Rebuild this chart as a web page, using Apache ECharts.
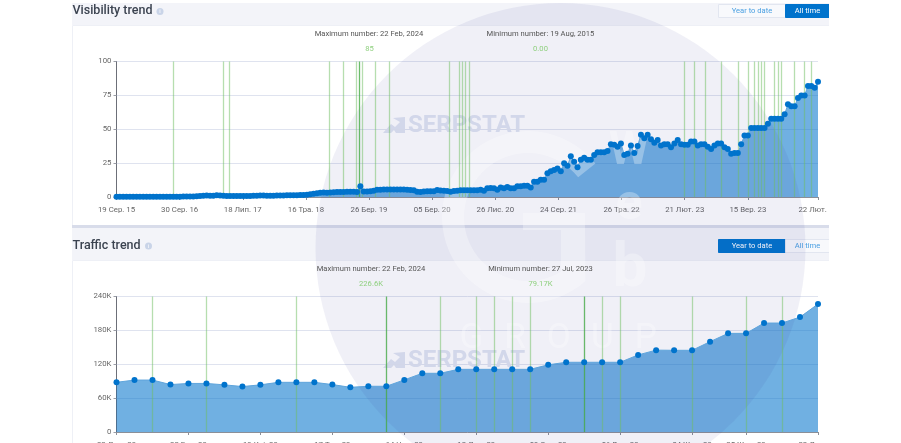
<!DOCTYPE html>
<html><head><meta charset="utf-8">
<style>html,body{margin:0;padding:0;background:#fff;overflow:hidden}#c{width:829px;height:443px;filter:blur(0.45px)}</style>
<script src="https://cdn.jsdelivr.net/npm/echarts@6/dist/echarts.min.js"></script>
</head><body><div id="c"></div>
<script>
const visibilityValues = [
0.2,0.2,0.2,0.2,0.2,0.2,0.2,0.2,0.2,0.2,0.2,0.2,0.2,0.2,0.2,0.2,0.2,0.2,0.2,0.2,
0.3,0.3,0.3,0.4,0.5,0.7,0.9,1.1,1.0,1.0,1.2,1.1,1.0,0.7,0.7,0.8,0.8,0.7,0.7,0.8,
0.8,0.9,1.0,1.1,1.1,1.0,1.0,1.0,1.1,1.1,1.1,1.2,1.2,1.2,1.3,1.4,1.5,1.7,2.0,2.4,
2.8,3.2,3.3,3.2,3.4,3.5,3.6,3.6,3.7,3.8,3.8,3.8,3.7,8.0,4.0,4.0,4.2,4.6,5.3,5.4,
5.5,5.6,5.6,5.6,5.5,5.5,5.5,5.4,5.2,5.0,3.8,3.6,4.0,4.2,4.2,4.2,5.1,4.8,4.6,4.5,
3.9,4.4,4.7,5.0,4.9,5.0,4.9,5.0,5.0,5.4,4.7,6.4,6.6,6.4,5.4,7.0,6.4,7.4,6.4,6.4,
8.0,8.0,8.3,8.3,7.0,11.3,11.3,12.7,12.7,17.6,19,20,21,19,25,23,30,26,22,27.5,
29,27.5,27.5,31,33,33,33,34,39,38.5,37,39.5,31,32,38,32.4,37.7,46,43.4,46,
42.6,40,42,38,39,39,36.8,39.5,42,39,38.5,38.5,41,41,38,39,39,37,35.5,38,
39.5,39.5,36.8,35.5,32,32.4,32.4,39,45.3,45.3,51,51,51,51,51,54,57.8,57.8,57.8,57.8,
61,68.4,67,67,73,75,75,82,82,80.6,85];
const visibilityUpdates = [16.9,31.9,33.9,63.8,67.8,71.8,73.6,77.6,81.6,99.5,102.5,103.5,104.5,105.5,170.1,173.1,176.1,181,186,189,191,192,193,194,197,198,199,203,206,208];
const visibilityStrongUpdates = [72.6];
const visibilityTickPositions = [0,18.9,37.8,56.7,75.6,94.5,113.4,132.3,151.2,170.1,189,210];
const visibilityTickLabels = ['19 Сер. 15','30 Сер. 16','18 Лип. 17','16 Тра. 18','26 Бер. 19','05 Бер. 20','26 Лис. 20','24 Сер. 21','26 Тра. 22','21 Лют. 23','15 Вер. 23','22 Лют. 24'];
const trafficValues = [88000,92000,92000,84000,86000,86000,83500,80500,83500,88000,88000,88000,84000,79170,81000,81000,92300,104000,104000,111000,111000,111000,111000,111000,119000,123500,123500,123500,123500,136500,145000,144700,144700,160000,174700,174700,193000,193000,203500,226600];
const trafficUpdates = [2,5,10,18,20,21,22,23,27,28,32,35,37];
const trafficStrongUpdates = [15,26];
const trafficTickPositions = [0,4,8,12,16,20,24,28,32,35,39];
const trafficTickLabels = ['22 Лют. 23','22 Бер. 23','19 Кві. 23','17 Тра. 23','14 Чер. 23','12 Лип. 23','09 Сер. 23','06 Вер. 23','04 Жов. 23','25 Жов. 23','22 Лют. 24'];

const FONT = 'Roboto';
const GREEN_SOFT = 'rgba(110,190,95,0.5)', GREEN_STRONG = 'rgba(70,170,70,0.8)';
const chart = echarts.init(document.getElementById('c'), null, {renderer:'canvas'});

function xAxis(gridIndex, ticks, labels, max){
  const map = new Map(ticks.map((t,i)=>[t,labels[i]]));
  return {type:'value',gridIndex,min:0,max,splitLine:{show:false},
    axisLine:{onZero:false,lineStyle:{color:'#8b8f98',width:1}},
    axisTick:{customValues:ticks,length:3,lineStyle:{color:'#8b8f98'}},
    axisLabel:{customValues:ticks,formatter:v=>map.get(v)||'',color:'#666',fontFamily:FONT,fontSize:7.8,margin:9,hideOverlap:false,showMinLabel:true,showMaxLabel:true}};
}
function yAxis(gridIndex,max,interval,fmt){
  return {type:'value',gridIndex,min:0,max,interval,
    axisLine:{show:true,lineStyle:{color:'#6c6f78',width:1}},
    axisTick:{show:true,length:3,lineStyle:{color:'#9a9da6'}},
    splitLine:{lineStyle:{color:'#dfe3ef',width:1}},
    axisLabel:{formatter:fmt,color:'#666',fontFamily:FONT,fontSize:7.8,margin:5}};
}
// area layer (below the watermark) and line + markers layer (above it)
function areaSeries(idx,values){
  return {type:'line',z:2,xAxisIndex:idx,yAxisIndex:idx,data:values.map((v,i)=>[i,v]),
    showSymbol:false,clip:false,animation:false,silent:true,
    lineStyle:{width:0},areaStyle:{color:'#0073cc',opacity:0.56}};
}
function markerSeries(idx,values,soft,strong){
  return {type:'line',z:6,xAxisIndex:idx,yAxisIndex:idx,data:values.map((v,i)=>[i,v]),
    showSymbol:true,showAllSymbol:true,symbol:'circle',symbolSize:6,clip:false,animation:false,silent:true,
    itemStyle:{color:'#0073cc',opacity:1},
    lineStyle:{color:'#5fa5dc',width:1},
    markLine:{silent:true,symbol:'none',animation:false,label:{show:false},precision:2,
      data:soft.map(x=>({xAxis:x,lineStyle:{color:GREEN_SOFT,width:1.3,type:'solid'}}))
        .concat(strong.map(x=>({xAxis:x,lineStyle:{color:GREEN_STRONG,width:1.3,type:'solid'}})))}};
}
function txt(x,y,text,o){return {type:'text',x,y,silent:true,z:o.z??1,style:Object.assign({text,fontFamily:FONT,fontSize:7.6,fill:'#555',align:'center',verticalAlign:'middle'},o.style||{})};}
function rect(x,y,w,h,fill,z,stroke){return {type:'rect',silent:true,z,shape:{x,y,width:w,height:h},style:{fill,stroke:stroke||null,lineWidth:1}};}
function info(x,y){return [{type:'circle',silent:true,z:1,shape:{cx:x,cy:y,r:3.5},style:{fill:'#c9d4e8'}},txt(x,y,'i',{style:{fontSize:6,fill:'#fff'}})];}
function button(x,y,w,h,label,active){
  return [rect(x,y,w,h,active?'#0073cc':'#f8f9fc',1,active?'#0073cc':'#e2e6f0'),
    txt(x+w/2,y+h/2+0.5,label,{style:{fill:active?'#fff':'#4ba0e2',fontSize:7.6}})];
}
function serpstat(x,y){
  return [{type:'polygon',silent:true,z:0,shape:{points:[[x,y+16],[x+8,y+7],[x+12,y+10],[x+17,y+5],[x+10,y+1],[x+22,y+0],[x+22,y+16],[x+13,y+16],[x+11,y+13],[x+8,y+16]]},style:{fill:'#dfe4f1'}},
    txt(x+25,y+8.5,'SERPSTAT',{z:0,style:{align:'left',fontWeight:'bold',fontSize:24,fill:'#dfe4f1'}})];
}
// decorative watermark "G" outline
function gOutline(cx,cy,R,r){
  const pts=[], a0=-0.67, a1=0.84-2*Math.PI, b0=1.03-2*Math.PI, b1=-0.67;
  for(let k=0;k<=48;k++){const t=a0+(a1-a0)*k/48;pts.push([cx+R*Math.cos(t),cy+R*Math.sin(t)]);}
  pts.push([585,213],[523,213],[523,230],[561,230]);
  for(let k=0;k<=48;k++){const t=b0+(b1-b0)*k/48;pts.push([cx+r*Math.cos(t),cy+r*Math.sin(t)]);}
  return pts;
}
const WM = 'rgba(255,255,255,0.3)';
const graphic = [
  rect(72,3,757,22,'#f3f4f9',-10),
  rect(72.5,25.5,757,200,'#ffffff',-10,'#eef0f6'),
  rect(72,225,757,3,'#d8dcea',-10),
  rect(72,228,757,32,'#f3f4f9',-10),
  rect(72.5,260.5,757,183,'#ffffff',-10,'#eef0f6'),
  txt(72.5,10.5,'Visibility trend',{style:{align:'left',fontSize:12.5,fontWeight:500,fill:'#3b4350'}}),
  txt(72.5,245.5,'Traffic trend',{style:{align:'left',fontSize:12.5,fontWeight:500,fill:'#3b4350'}}),
  ...info(160,11.5),...info(148.5,246),
  ...button(718.5,4.5,67,13,'Year to date',false),...button(785.5,4.5,44,13,'All time',true),
  ...button(718.5,239.5,67,13,'Year to date',true),...button(785.5,239.5,44,13,'All time',false),
  txt(369,33.8,'Maximum number: 22 Feb, 2024',{z:5}),
  txt(369.5,49,'85',{z:5,style:{fill:'#8fd07f'}}),
  txt(540.5,33.8,'Minimum number: 19 Aug, 2015',{z:5}),
  txt(540.5,49,'0.00',{z:5,style:{fill:'#8fd07f'}}),
  txt(371,269,'Maximum number: 22 Feb, 2024',{z:5}),
  txt(371,284,'226.6K',{z:5,style:{fill:'#8fd07f'}}),
  txt(540.5,269,'Minimum number: 27 Jul, 2023',{z:5}),
  txt(540.5,284,'79.17K',{z:5,style:{fill:'#8fd07f'}}),
  ...serpstat(383,117),...serpstat(383,352),
  {type:'circle',silent:true,z:3,shape:{cx:560.5,cy:248,r:245},style:{fill:'rgba(50,60,150,0.075)'}},
  {type:'polygon',silent:true,z:4,shape:{points:gOutline(528,217,86,64)},style:{fill:WM}},
  txt(629,152,'W',{z:4,style:{fontSize:46,fontWeight:'bold',fill:WM}}),
  txt(629,206,'e',{z:4,style:{fontSize:50,fontWeight:'bold',fill:WM}}),
  txt(630,270,'b',{z:4,style:{fontSize:62,fontWeight:'bold',fill:WM}}),
  ...['G','R','O','U','P'].map((c,i)=>txt(471.5+i*43.6,339,c,{z:4,style:{fontSize:35,fill:WM}}))
];
chart.setOption({
  animation:false,backgroundColor:'transparent',
  grid:[{left:116.5,top:61.5,width:701.5,height:135.5,outerBoundsMode:'none'},{left:116.5,top:296.5,width:701.5,height:135.5,outerBoundsMode:'none'}],
  xAxis:[xAxis(0,visibilityTickPositions,visibilityTickLabels,visibilityValues.length-1),xAxis(1,trafficTickPositions,trafficTickLabels,trafficValues.length-1)],
  yAxis:[yAxis(0,100,25,v=>String(v)),yAxis(1,240000,60000,v=>v===0?'0':(v/1000)+'K')],
  series:[areaSeries(0,visibilityValues),areaSeries(1,trafficValues),markerSeries(0,visibilityValues,visibilityUpdates,visibilityStrongUpdates),markerSeries(1,trafficValues,trafficUpdates,trafficStrongUpdates)],
  graphic:{elements:graphic}
});
</script></body></html>
